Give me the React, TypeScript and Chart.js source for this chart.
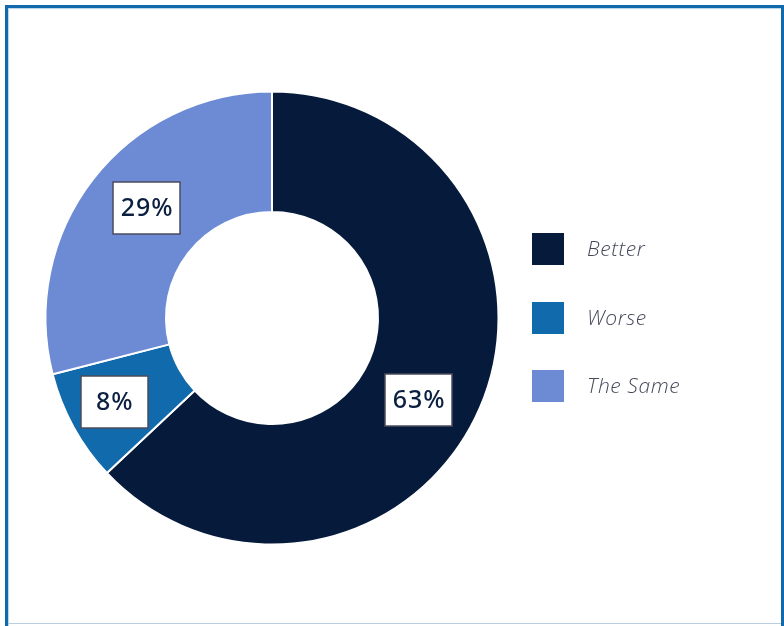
import React, { useEffect, useRef } from "react";
import { Chart, registerables } from "chart.js";

Chart.register(...registerables);

const categories = ["Better", "Worse", "The Same"];
const values = [63, 8, 29];
const valueLabels = ["63%", "8%", "29%"];
const colors = ["#061a3c", "#106aab", "#6c8bd4"];
// small visual nudges of the value boxes relative to the arc centroid
const labelNudges = [
  [-6, 16],
  [-12, 4],
  [6, -8],
];

const valueBoxPlugin = {
  id: "valueBoxes",
  afterDatasetsDraw(chart: any) {
    const ctx = chart.ctx;
    const meta = chart.getDatasetMeta(0);
    ctx.save();
    meta.data.forEach((arc: any, i: number) => {
      const p = arc.tooltipPosition();
      const x = p.x + labelNudges[i][0];
      const y = p.y + labelNudges[i][1];
      const w = 67;
      const h = 52;
      ctx.fillStyle = "#ffffff";
      ctx.fillRect(Math.round(x - w / 2), Math.round(y - h / 2), w, h);
      ctx.strokeStyle = "#4a4c5e";
      ctx.lineWidth = 1.5;
      ctx.strokeRect(Math.round(x - w / 2), Math.round(y - h / 2), w, h);
      ctx.fillStyle = "#0b1f40";
      ctx.font = "500 25px 'Noto Sans'";
      (ctx as any).letterSpacing = "1px";
      ctx.textAlign = "center";
      ctx.textBaseline = "middle";
      ctx.fillText(valueLabels[i], x + 0.5, y + 1);
      (ctx as any).letterSpacing = "0px";
    });
    ctx.restore();
  },
};

const legendPlugin = {
  id: "customLegend",
  afterDraw(chart: any) {
    const ctx = chart.ctx;
    const labels = chart.data.labels as string[];
    const bg = chart.data.datasets[0].backgroundColor as string[];
    ctx.save();
    labels.forEach((lab, i) => {
      const y = 233 + i * 68.5;
      ctx.fillStyle = bg[i];
      ctx.fillRect(532, Math.round(y), 32, 32);
      ctx.fillStyle = "#45485a";
      ctx.font = "italic 300 21px 'Open Sans'";
      (ctx as any).letterSpacing = "0.6px";
      ctx.textAlign = "left";
      ctx.textBaseline = "middle";
      ctx.fillText(lab, 587, y + 17.5);
      (ctx as any).letterSpacing = "0px";
    });
    ctx.restore();
  },
};

export default function App() {
  const ref = useRef<HTMLCanvasElement | null>(null);
  useEffect(() => {
    if (!ref.current) return;
    const chart = new Chart(ref.current, {
      type: "doughnut",
      data: {
        labels: categories,
        datasets: [
          {
            data: values,
            backgroundColor: colors,
            borderColor: "#ffffff",
            borderWidth: 2,
          },
        ],
      },
      options: {
        animation: false,
        responsive: false,
        maintainAspectRatio: false,
        radius: 226.5,
        cutout: "46.8%",
        layout: { padding: { left: 32, right: 272, top: 78, bottom: 68 } },
        plugins: {
          legend: { display: false },
          tooltip: { enabled: false },
        },
      },
      plugins: [valueBoxPlugin, legendPlugin],
    });
    return () => chart.destroy();
  }, []);
  return (
    <div style={{ position: "fixed", left: 0, top: 0, width: 784, height: 626, background: "#fff", overflow: "hidden" }}>
      <canvas ref={ref} width={784} height={626} style={{ position: "absolute", left: 0, top: 0, width: 784, height: 626 }} />
      <div
        style={{
          position: "absolute",
          left: 5,
          top: 5,
          width: 773,
          height: 640,
          borderTop: "3px solid #106aad",
          borderLeft: "3px solid #106aad",
          borderRight: "3px solid #106aad",
          boxShadow: "inset 1px 1px 1px #b9d2e6",
          pointerEvents: "none",
        }}
      />
      <div style={{ position: "absolute", left: 8, top: 623, width: 773, height: 1, background: "#b9cfe0" }} />
    </div>
  );
}
